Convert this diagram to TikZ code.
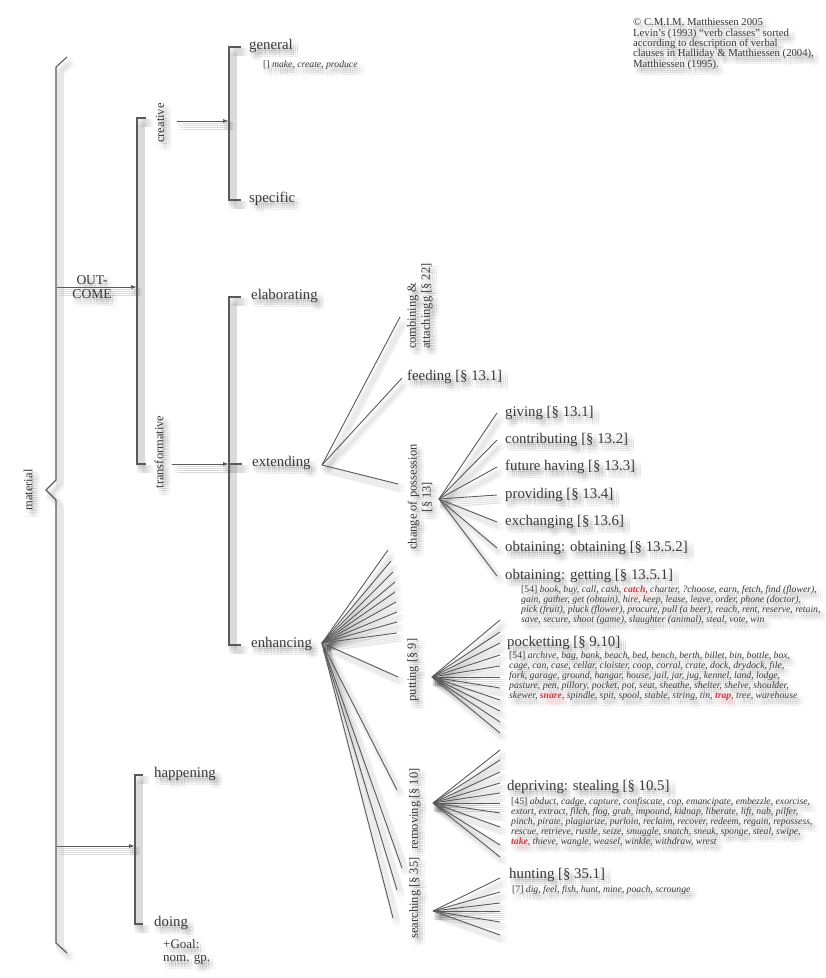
\documentclass[tikz,border=0pt]{standalone}
\usepackage{fontspec}
\setmainfont{Liberation Serif}
\usetikzlibrary{arrows.meta,calc}
\definecolor{ink}{HTML}{3A3A3A}
\definecolor{rule}{HTML}{5A5A5A}
\definecolor{hl}{HTML}{D8323C}
\newcommand{\hw}[1]{\textcolor{hl}{\textbf{#1}}}
\tikzset{
  lbl/.style={font=\fontsize{14.8}{16}\selectfont, text=ink, inner sep=0pt, anchor=west},
  vlbl/.style={font=\fontsize{12.5}{14}\selectfont, text=ink, inner sep=0pt,
               rotate=90, anchor=center, align=center},
  lst/.style={font=\fontsize{9.7}{10}\selectfont\itshape, text=ink, inner sep=0pt,
              anchor=north west, align=left},
  br/.style={draw=rule, line width=1.1pt},
  ray/.style={draw=rule, line width=0.9pt},
  arr/.style={draw=rule, line width=0.9pt, -{Latex[length=6pt,width=4pt]}},
}
% the whole network; drawn faintly several times as a soft shadow, then on top
\newcommand{\drawnetwork}{%
% credits
\node[font=\fontsize{10.7}{10.4}\selectfont, text=ink, inner sep=0pt, anchor=north west,
      align=left]
  (credits) at (633,18) {\textcopyright{} C.M.I.M. Matthiessen 2005\\
  Levin's (1993) ``verb classes'' sorted\\
  according to description of verbal\\
  clauses in Halliday \& Matthiessen (2004),\\
  Matthiessen (1995).};
% material: outer brace
\node[vlbl] (material) at (28,490) {material};
\draw[br] (67,57) -- (56,67) -- (56,480) -- (46,490) -- (56,500) -- (56,943) -- (67,953);
% OUTCOME system
\coordinate (oc0) at (57,287);
\coordinate (oc1) at (137,287);
\draw[arr] (oc0) -- (oc1);
\node[lbl, font=\fontsize{13.5}{14}\selectfont, anchor=south] (out) at (92,285) {OUT-};
\node[lbl, font=\fontsize{13.5}{14}\selectfont, anchor=north] (come) at (92,289) {COME};
\draw[br] (146,118) -- (137,118) -- (137,464) -- (146,464);
\node[vlbl] (creative) at (160,123) {creative};
\node[vlbl] (transf) at (159,452) {transformative};
% creative
\coordinate (cr0) at (177,121);
\coordinate (cr1) at (229,121);
\draw[arr] (cr0) -- (cr1);
\draw[br] (241,47) -- (229,47) -- (229,200) -- (241,200);
\node[lbl] (general) at (249,46) {general};
\node[lst, anchor=west] (genlist) at (263,65) {\upshape[]\itshape\ make, create, produce};
\node[lbl] (specific) at (249,199) {specific};
% transformative
\coordinate (tr0) at (172,464);
\coordinate (tr1) at (229,464);
\draw[arr] (tr0) -- (tr1);
\draw[br] (241,297) -- (229,297) -- (229,645) -- (241,645);
\draw[br] (229,464) -- (242,464);
\node[lbl] (elab) at (251,296) {elaborating};
\node[lbl] (ext) at (252,463) {extending};
\node[lbl] (enh) at (251,644) {enhancing};
% extending
\coordinate (xo) at (322,465);
\node[vlbl, anchor=west, align=left] (comb) at (420,349) {combining \&\\{}attachingg [§ 22]};
\node[lbl] (feed) at (407,377) {feeding [§ 13.1]};
\node[vlbl] (poss) at (420,497) {change of possession\\{}[§ 13]};
\coordinate (xe1) at (400,317);
\coordinate (xe2) at (402,378);
\coordinate (xe3) at (398,484);
\foreach \e in {xe1,xe2,xe3} \draw[ray] (xo) -- (\e);
% change of possession
\coordinate (po) at (439,499);
\foreach \y/\t [count=\i] in {413/{giving [§ 13.1]},440/{contributing [§ 13.2]},
    467/{future having [§ 13.3]},495/{providing [§ 13.4]},522/{exchanging [§ 13.6]},
    548/{obtaining: obtaining [§ 13.5.2]},576/{obtaining: getting [§ 13.5.1]}} {
  \node[lbl] (pi\i) at (505,\y) {\t};
  \draw[ray] (po) -- ($(pi\i.west)+(-8,0)$);
}
\node[lst] (getlist) at (521,585) {\upshape[54]\itshape\ book, buy, call, cash, \hw{catch}, charter, ?choose, earn, fetch, find (flower),\\
gain, gather, get (obtain), hire, keep, lease, leave, order, phone (doctor),\\
pick (fruit), pluck (flower), procure, pull (a beer), reach, rent, reserve, retain,\\
save, secure, shoot (game), slaughter (animal), steal, vote, win};
% enhancing
\coordinate (eo) at (322,643);
\foreach \x/\y [count=\i] in {388/550,391/561,393/572,395/582,395/592,396/602,397/612,397/622,397/633,
    398/677,397/790,402/868,397/890,393/918} {
  \coordinate (ee\i) at (\x,\y);
  \draw[ray] (eo) -- (ee\i);
}
\node[vlbl] (putting) at (413,670) {putting [§ 9]};
\node[vlbl] (removing) at (415,809) {removing [§ 10]};
\node[vlbl] (searching) at (415,898) {searching [§ 35]};
% putting
\coordinate (pu) at (432,677);
\foreach \y [count=\i] in {620,632,643,655,666,677,688,700,711,722,733} {
  \coordinate (pue\i) at (500,\y);
  \draw[ray] (pu) -- (pue\i);
}
\node[lbl] (pocket) at (507,643) {pocketting [§ 9.10]};
\node[lst] (pocklist) at (509,652) {\upshape[54]\itshape\ archive, bag, bank, beach, bed, bench, berth, billet, bin, bottle, box,\\
cage, can, case, cellar, cloister, coop, corral, crate, dock, drydock, file,\\
fork, garage, ground, hangar, house, jail, jar, jug, kennel, land, lodge,\\
pasture, pen, pillory, pocket, pot, seat, sheathe, shelter, shelve, shoulder,\\
skewer, \hw{snare}, spindle, spit, spool, stable, string, tin, \hw{trap}, tree, warehouse};
% removing
\coordinate (ro) at (433,803);
\foreach \y [count=\i] in {750,760,772,783,793,803,813,827,845,857} {
  \coordinate (roe\i) at (500,\y);
  \draw[ray] (ro) -- (roe\i);
}
\node[lbl] (depriv) at (507,787) {depriving: stealing [§ 10.5]};
\node[lst] (deplist) at (511,797) {\upshape[45]\itshape\ abduct, cadge, capture, confiscate, cop, emancipate, embezzle, exorcise,\\
extort, extract, filch, flog, grab, impound, kidnap, liberate, lift, nab, pilfer,\\
pinch, pirate, plagiarize, purloin, reclaim, recover, redeem, regain, repossess,\\
rescue, retrieve, rustle, seize, smuggle, snatch, sneak, sponge, steal, swipe,\\
\hw{take}, thieve, wangle, weasel, winkle, withdraw, wrest};
% searching
\coordinate (so) at (433,911);
\foreach \y [count=\i] in {878,892,903,911,922,935} {
  \coordinate (soe\i) at (500,\y);
  \draw[ray] (so) -- (soe\i);
}
\node[lbl] (hunt) at (509,875) {hunting [§ 35.1]};
\node[lst] (huntlist) at (512,885) {\upshape[7]\itshape\ dig, feel, fish, hunt, mine, poach, scrounge};
% second system: happening / doing
\coordinate (hd0) at (57,846);
\coordinate (hd1) at (135,846);
\draw[arr] (hd0) -- (hd1);
\draw[br] (143,775) -- (135,775) -- (135,924) -- (143,924);
\node[lbl] (happ) at (154,774) {happening};
\node[lbl] (doing) at (154,923) {doing};
\node[lbl, font=\fontsize{13}{13.5}\selectfont, anchor=north west, align=left] (goal) at (163,939) {+Goal:\\nom. gp.};
}
\begin{document}
\begin{tikzpicture}[x=1pt,y=-1pt]
\path[use as bounding box, fill=white] (0,0) rectangle (826,978);
% soft drop shadow: faint offset copies spread over a small area
\foreach \dx in {1,3,5,7} {
  \foreach \dy in {2,4,6,8} {
    \begin{scope}[shift={(\dx,\dy)}, opacity=0.035]
      \colorlet{ink}{black}\colorlet{rule}{black}
      \drawnetwork
    \end{scope}
  }
}
\drawnetwork
\end{tikzpicture}
\end{document}
